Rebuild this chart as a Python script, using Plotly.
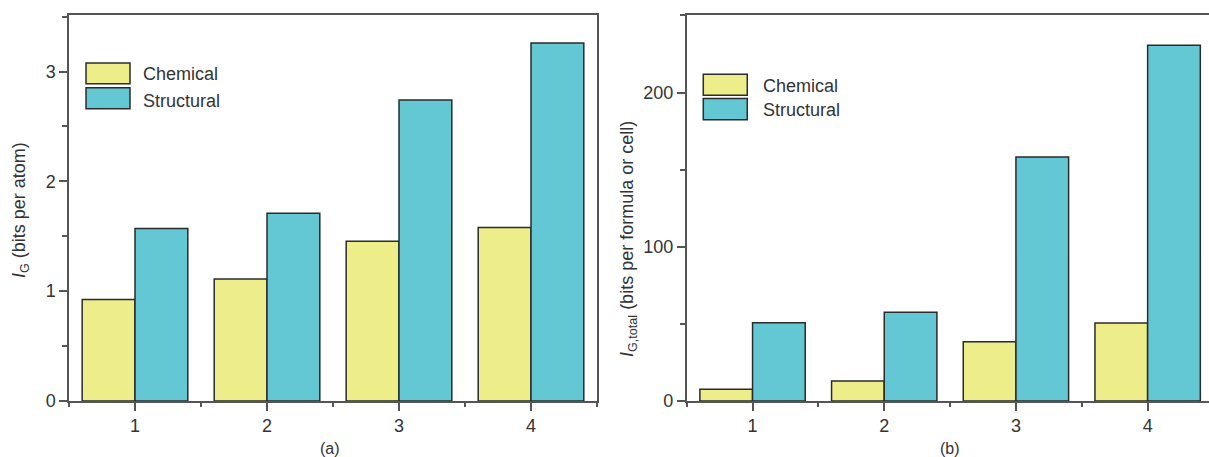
import plotly.graph_objects as go
from plotly.subplots import make_subplots

categories = [1, 2, 3, 4]
chem_atom = [0.925, 1.11, 1.455, 1.58]
struct_atom = [1.57, 1.71, 2.74, 3.26]
chem_total = [7.6, 12.9, 38.4, 50.5]
struct_total = [50.7, 57.6, 158.2, 230.7]
series_names = ["Chemical", "Structural"]

YELLOW = "#EDED8A"
CYAN = "#63C8D3"
EDGE = "#2b2b2b"
AXIS = "#555555"
TXT = "#333333"
FONT = "Liberation Sans, Arial, sans-serif"

fig = make_subplots(rows=1, cols=2)

for col, (c, s) in enumerate([(chem_atom, struct_atom), (chem_total, struct_total)], start=1):
    fig.add_trace(go.Bar(x=categories, y=c, name=series_names[0], marker=dict(color=YELLOW, line=dict(color=EDGE, width=1.5)), showlegend=False), row=1, col=col)
    fig.add_trace(go.Bar(x=categories, y=s, name=series_names[1], marker=dict(color=CYAN, line=dict(color=EDGE, width=1.5)), showlegend=False), row=1, col=col)

axis_common = dict(showgrid=False, zeroline=False, showline=True, linecolor=AXIS, linewidth=1.5,
                   ticks="outside", tickcolor=AXIS, tickwidth=1.5, ticklen=8,
                   tickfont=dict(family=FONT, size=18, color=TXT))

fig.update_layout(
    width=1209, height=457,
    margin=dict(l=0, r=0, t=15, b=56),
    plot_bgcolor="white", paper_bgcolor="white",
    barmode="group", bargap=0.2, bargroupgap=0,
    font=dict(family=FONT, color=TXT),
    xaxis=dict(domain=[69/1209, 597/1209], range=[0.5, 4.5], tickmode="array", tickvals=categories,
               mirror=True, minor=dict(ticks="outside", ticklen=4, tickcolor=AXIS, dtick=0.5, tick0=0.5), **axis_common),
    yaxis=dict(range=[0, 3.515], dtick=1, mirror=True,
               minor=dict(ticks="outside", ticklen=5, tickcolor=AXIS, dtick=0.5), **axis_common),
    xaxis2=dict(domain=[686.7/1209, 1.0], range=[0.5, 4.466], tickmode="array", tickvals=categories,
                mirror=True, minor=dict(ticks="outside", ticklen=4, tickcolor=AXIS, dtick=0.5, tick0=0.5), **axis_common),
    yaxis2=dict(range=[0, 250.3], dtick=100, mirror=False,
                minor=dict(ticks="outside", ticklen=5, tickcolor=AXIS, dtick=50), **axis_common),
)

# custom legends
legend_boxes = {
    1: dict(x0=0.629, x1=0.962, ys=[(2.888, 3.079), (2.661, 2.852)], tx=1.045, ty=[2.98, 2.73]),
    2: dict(x0=0.626, x1=0.960, ys=[(198.3, 211.9), (182.3, 196.1)], tx=1.064, ty=[204.3, 188.9]),
}
colors = [YELLOW, CYAN]
for col, spec in legend_boxes.items():
    xr = "x" if col == 1 else "x2"
    yr = "y" if col == 1 else "y2"
    for i, (y0, y1) in enumerate(spec["ys"]):
        fig.add_shape(type="rect", xref=xr, yref=yr, x0=spec["x0"], x1=spec["x1"], y0=y0, y1=y1,
                      fillcolor=colors[i], line=dict(color=EDGE, width=1.5))
        fig.add_annotation(xref=xr, yref=yr, x=spec["tx"], y=spec["ty"][i], text=series_names[i],
                           showarrow=False, xanchor="left", yanchor="middle",
                           font=dict(family=FONT, size=18, color=TXT))

# axis titles
fig.add_annotation(xref="paper", yref="paper", x=20/1209, y=(401 - 210)/386, text="<i>I</i><sub>G</sub> (bits per atom)",
                   textangle=-90, showarrow=False, xanchor="center", yanchor="middle",
                   font=dict(family=FONT, size=18, color=TXT))
fig.add_annotation(xref="paper", yref="paper", x=628/1209, y=(401 - 239)/386, text="<i>I</i><sub>G,total</sub> (bits per formula or cell)",
                   textangle=-90, showarrow=False, xanchor="center", yanchor="middle",
                   font=dict(family=FONT, size=18, color=TXT))

# panel labels
fig.add_annotation(xref="paper", yref="paper", x=330/1209, y=(401 - 448)/386, text="(a)", showarrow=False,
                   xanchor="center", yanchor="middle", font=dict(family=FONT, size=16, color=TXT))
fig.add_annotation(xref="paper", yref="paper", x=950/1209, y=(401 - 448)/386, text="(b)", showarrow=False,
                   xanchor="center", yanchor="middle", font=dict(family=FONT, size=16, color=TXT))

fig.write_html("out.html", config={"displayModeBar": False},
               post_script="document.body.style.margin='0';document.body.style.overflow='hidden';")
